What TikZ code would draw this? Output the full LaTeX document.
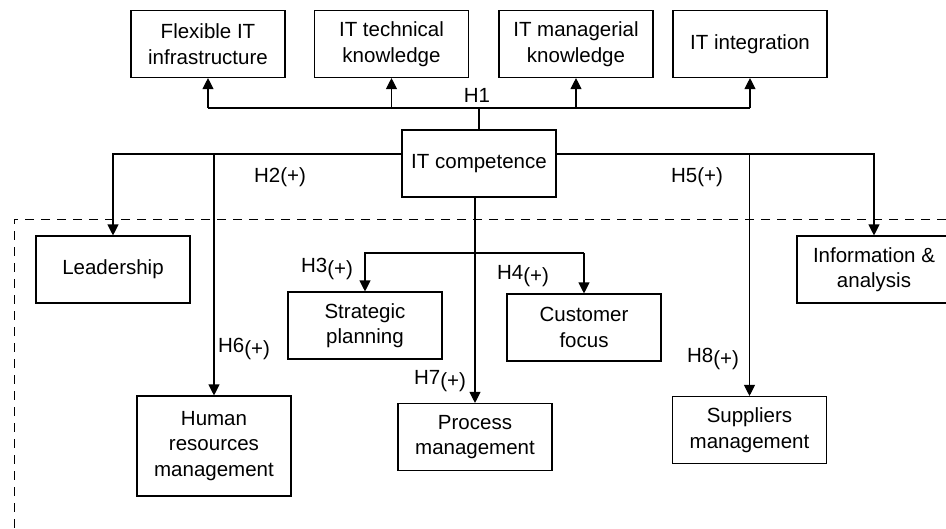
\documentclass[tikz,border=0pt]{standalone}
\usepackage{fontspec}
\setmainfont{Liberation Sans}
\usetikzlibrary{arrows.meta}

\begin{document}
\begin{tikzpicture}[x=1pt, y=-1pt, line width=1.1pt,
    box/.style={draw, align=center, inner sep=0pt, minimum width=154pt, minimum height=67pt,
                font=\fontsize{20.5}{25.5}\selectfont},
    lbl/.style={inner sep=0pt, font=\fontsize{20.5}{25.5}\selectfont},
    arr/.style={-{Triangle[length=11pt,width=11pt]}}]
    \useasboundingbox (0, 0) rectangle (946, 528);

    % dimensions of the quality management practices
    \draw[dashed, dash pattern=on 9pt off 7pt, line width=1pt] (946, 219) -- (14, 219) -- (14, 528);

    \node[box] (flex) at (208, 44) {Flexible IT\\infrastructure};
    \node[box] (tech) at (391.5, 44) {IT technical\\knowledge};
    \node[box] (mgr) at (576, 44) {IT managerial\\knowledge};
    \node[box] (integ) at (750, 44) {IT integration};
    \node[box] (comp) at (479, 163.5) {IT competence};

    \node[box] (lead) at (113, 269.5) {Leadership};
    \node[box] (info) at (874, 269.5) {Information \&\\analysis};
    \node[box] (strat) at (365, 325.5) {Strategic\\planning};
    \node[box] (cust) at (584, 327.5) {Customer\\focus};
    \node[box, minimum height=100pt] (hr) at (214, 446) {Human\\resources\\management};
    \node[box] (proc) at (475, 437) {Process\\management};
    \node[box] (supp) at (749.5, 430) {Suppliers\\management};

    \coordinate (topbus) at (0, 108);
    \coordinate (midbus) at (0, 154);
    \coordinate (lowbus) at (0, 253);

    % H1
    \draw[] (comp.north) -- (comp.north |- topbus);
    \draw[] (flex.south |- topbus) -- (integ.south |- topbus);
    \draw[arr] (flex.south |- topbus) -- (flex.south);
    \draw[arr] (tech.south |- topbus) -- (tech.south);
    \draw[arr] (mgr.south |- topbus) -- (mgr.south);
    \draw[arr] (integ.south |- topbus) -- (integ.south);

    % left and right branches
    \draw[arr] (comp.west |- midbus) -| (lead.north);
    \draw[arr] (hr.north |- midbus) -- (hr.north);
    \draw[arr] (comp.east |- midbus) -| (info.north);
    \draw[arr] (supp.north |- midbus) -- (supp.north);

    % middle branch
    \draw[arr] (proc.north |- comp.south) -- (proc.north);
    \draw[arr] (cust.north |- lowbus) -- (strat.north |- lowbus) -- (strat.north);
    \draw[arr] (cust.north |- lowbus) -- (cust.north);

    \node[lbl] (h1) at (477, 95) {H1};
    \node[lbl] (h2) at (280, 177) {H2(+)};
    \node[lbl] (h5) at (697, 177) {H5(+)};
    \node[lbl] (h3) at (327, 269) {H3\raisebox{-3pt}{(+)}};
    \node[lbl] (h4) at (523, 276) {H4\raisebox{-3pt}{(+)}};
    \node[lbl] (h6) at (244, 349) {H6\raisebox{-3pt}{(+)}};
    \node[lbl] (h7) at (440, 381) {H7\raisebox{-3pt}{(+)}};
    \node[lbl] (h8) at (713, 359) {H8\raisebox{-3pt}{(+)}};
\end{tikzpicture}
\end{document}
